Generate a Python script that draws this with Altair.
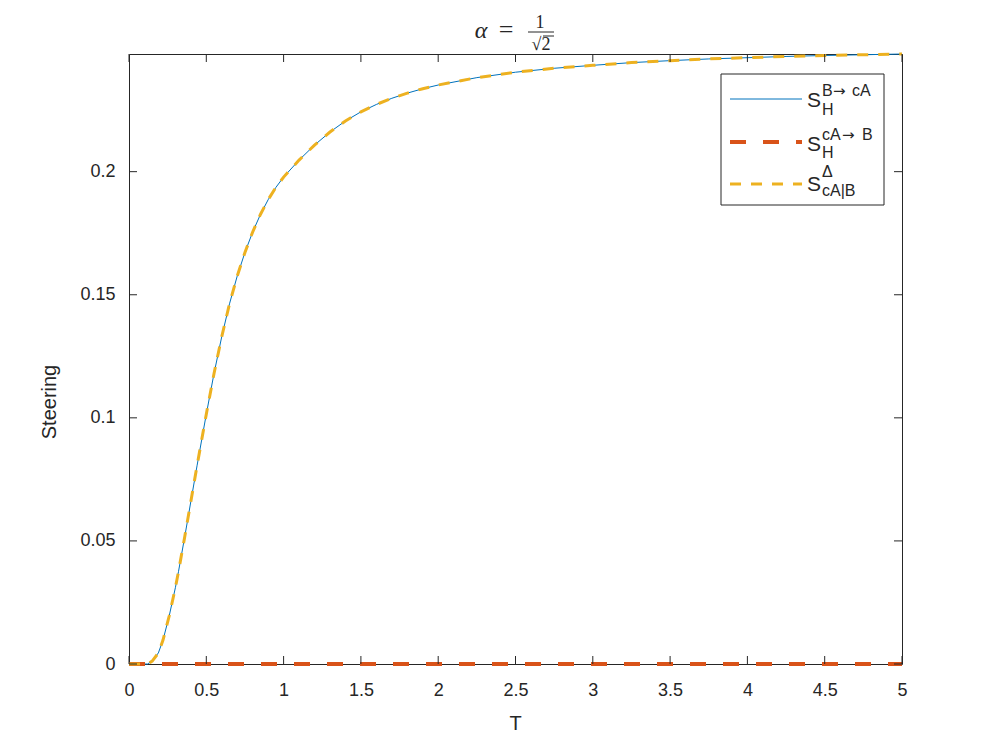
import altair as alt
import pandas as pd

# ---- data ----
T = [0.0, 0.05, 0.1, 0.12, 0.15, 0.19, 0.22, 0.26, 0.3, 0.32, 0.36, 0.4, 0.44,
     0.5, 0.55, 0.6, 0.65, 0.7, 0.75, 0.8, 0.85, 0.9, 0.95, 1.0, 1.1, 1.2,
     1.3, 1.4, 1.5, 1.6, 1.7, 1.8, 1.9, 2.0, 2.25, 2.5, 2.75, 3.0, 3.25,
     3.5, 3.75, 4.0, 4.25, 4.5, 4.75, 5.0]
S_B_to_cA = [0.0, 0.0, 0.0, 0.0, 0.0012, 0.0045, 0.0097, 0.0195, 0.031, 0.0375,
             0.0515, 0.066, 0.0805, 0.1015, 0.118, 0.1330, 0.1463, 0.1576,
             0.1672, 0.1755, 0.1826, 0.1886, 0.1936, 0.1978, 0.2047, 0.2108,
             0.2161, 0.2206, 0.2243, 0.2273, 0.2298, 0.2319, 0.2337, 0.2352,
             0.2382, 0.2404, 0.2420, 0.2432, 0.2443, 0.2451, 0.2458, 0.2463,
             0.2468, 0.2472, 0.2475, 0.2478]
S_cA_to_B = [0.0, 0.0, 0.0, 0.0, 0.0, 0.0, 0.0, 0.0, 0.0, 0.0, 0.0, 0.0, 0.0,
             0.0, 0.0, 0.0, 0.0, 0.0, 0.0, 0.0, 0.0, 0.0, 0.0, 0.0, 0.0, 0.0,
             0.0, 0.0, 0.0, 0.0, 0.0, 0.0, 0.0, 0.0, 0.0, 0.0, 0.0, 0.0, 0.0,
             0.0, 0.0, 0.0, 0.0, 0.0, 0.0, 0.0]
S_delta = [0.0, 0.0, 0.0, 0.0, 0.0012, 0.0045, 0.0097, 0.0195, 0.031, 0.0375,
           0.0515, 0.066, 0.0805, 0.1015, 0.118, 0.1330, 0.1463, 0.1576,
           0.1672, 0.1755, 0.1826, 0.1886, 0.1936, 0.1978, 0.2047, 0.2108,
           0.2161, 0.2206, 0.2243, 0.2273, 0.2298, 0.2319, 0.2337, 0.2352,
           0.2382, 0.2404, 0.2420, 0.2432, 0.2443, 0.2451, 0.2458, 0.2463,
           0.2468, 0.2472, 0.2475, 0.2478]
x_ticks = [0, 0.5, 1, 1.5, 2, 2.5, 3, 3.5, 4, 4.5, 5]
y_ticks = [0, 0.05, 0.1, 0.15, 0.2]
x_domain = [0, 5]
y_domain = [0, 0.2478]

W, H = 773, 610
INK = "#262626"
SANS = "Liberation Sans"
SERIF = "Liberation Serif"
SYM = "DejaVu Sans"
BLUE, ORANGE, YELLOW = "#0072BD", "#D95319", "#EDB120"

df = pd.DataFrame({"T": T, "a": S_B_to_cA, "b": S_cA_to_B, "c": S_delta})
xt = pd.DataFrame({"T": x_ticks})
yt = pd.DataFrame({"S": y_ticks})
one = pd.DataFrame({"k": [0]})

xs = alt.Scale(domain=x_domain, nice=False, zero=False)
ys = alt.Scale(domain=y_domain, nice=False, zero=False)

xaxis = alt.Axis(values=x_ticks, format="~g", ticks=False, domain=False, grid=False,
                 labelFontSize=18, labelFont=SANS, labelColor=INK, labelPadding=17,
                 labelFlush=False, title=None)
yaxis = alt.Axis(values=y_ticks, format="~g", ticks=False, domain=False, grid=False,
                 labelFontSize=18, labelFont=SANS, labelColor=INK, labelPadding=14,
                 labelFlush=False, title=None)

base = alt.Chart(df)
line_a = base.mark_line(color=BLUE, strokeWidth=1).encode(
    x=alt.X("T:Q", scale=xs, axis=xaxis), y=alt.Y("a:Q", scale=ys, axis=yaxis))
line_b = base.mark_line(color=ORANGE, strokeWidth=4, strokeDash=[16, 17]).encode(
    x=alt.X("T:Q", scale=xs), y=alt.Y("b:Q", scale=ys))
line_c = base.mark_line(color=YELLOW, strokeWidth=3, strokeDash=[11, 10]).encode(
    x=alt.X("T:Q", scale=xs), y=alt.Y("c:Q", scale=ys))

tick_style = dict(color=INK, strokeWidth=1)
tb = alt.Chart(xt).mark_rule(**tick_style).encode(
    x=alt.X("T:Q", scale=xs), y=alt.value(H), y2=alt.value(H - 8))
tt = alt.Chart(xt).mark_rule(**tick_style).encode(
    x=alt.X("T:Q", scale=xs), y=alt.value(0), y2=alt.value(8))
tl = alt.Chart(yt).mark_rule(**tick_style).encode(
    y=alt.Y("S:Q", scale=ys), x=alt.value(0), x2=alt.value(8))
tr = alt.Chart(yt).mark_rule(**tick_style).encode(
    y=alt.Y("S:Q", scale=ys), x=alt.value(W), x2=alt.value(W - 8))


def txt(text, x, y, size, font=SANS, align="left", baseline="alphabetic",
        angle=0, style="normal"):
    return alt.Chart(one).mark_text(
        text=text, font=font, fontSize=size, align=align, baseline=baseline,
        angle=angle, fontStyle=style, color=INK
    ).encode(x=alt.value(x), y=alt.value(y))


def hline(x1, x2, y, color, width, dash=None):
    kw = dict(color=color, strokeWidth=width)
    if dash:
        kw["strokeDash"] = dash
    return alt.Chart(one).mark_rule(**kw).encode(
        x=alt.value(x1), x2=alt.value(x2), y=alt.value(y))


# axis titles
titles = [
    txt("T", W / 2, 670, 20, align="center", baseline="middle"),
    txt("Steering", -79, 348, 20, align="center", baseline="middle", angle=270),
]

# chart title: alpha = 1/sqrt(2)
title_parts = [
    txt("α", 352, -16, 24, font=SERIF, align="center", style="italic"),
    txt("=", 377, -16, 26, font=SERIF, align="center"),
    txt("1", 411, -26, 18, font=SERIF, align="center"),
    hline(399, 425, -22, INK, 1),
    txt("√2", 412, -4, 18, font=SERIF, align="center"),
    hline(414, 425, -18, INK, 1),
]

# legend
legend_box = alt.Chart(one).mark_rect(fill="white", stroke=INK, strokeWidth=1).encode(
    x=alt.value(592), x2=alt.value(755), y=alt.value(20), y2=alt.value(151))
legend = [
    legend_box,
    hline(601, 673, 45, BLUE, 1),
    hline(601, 673, 88, ORANGE, 4, [16, 17]),
    hline(601, 673, 130, YELLOW, 3, [11, 10]),
    # entry 1: S_H^{B-> cA}
    txt("S", 678, 53, 21),
    txt("B", 693, 42, 16), txt("→", 704, 42, 15, font=SYM), txt("cA", 723, 42, 16),
    txt("H", 693, 61, 16),
    # entry 2: S_H^{cA-> B}
    txt("S", 678, 97, 21),
    txt("cA", 693, 86, 16), txt("→", 713, 86, 15, font=SYM), txt("B", 733, 86, 16),
    txt("H", 693, 104, 16),
    # entry 3: S_{cA|B}^{Delta}
    txt("S", 678, 137, 21), txt("Δ", 693, 123, 16), txt("cA|B", 693, 142, 16),
]

chart = alt.layer(
    line_a, line_b, line_c, tb, tt, tl, tr, *titles, *title_parts, *legend
).properties(
    width=W, height=H,
    autosize=alt.AutoSizeParams(type="none"),
    padding={"left": 121, "top": 46, "right": 86, "bottom": 75},
    background="white",
).configure_view(stroke=INK, strokeWidth=1)

chart.save("out.html", embed_options={"renderer": "svg", "actions": False})
